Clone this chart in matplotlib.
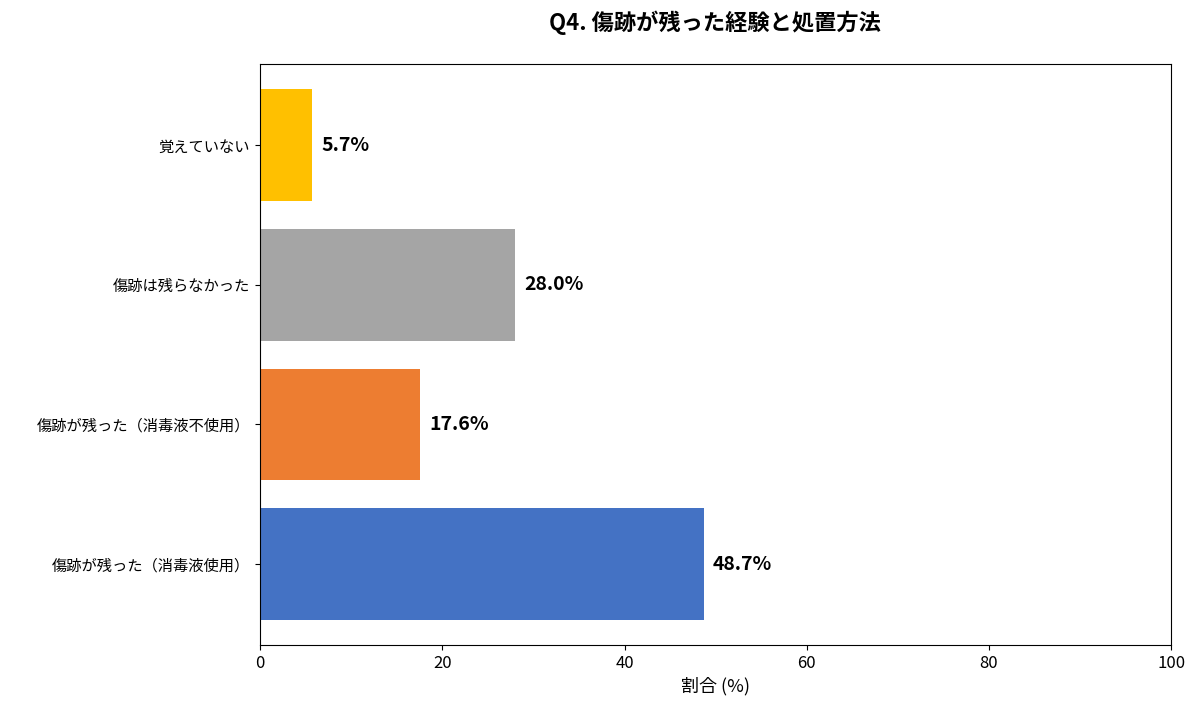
import matplotlib
matplotlib.use("Agg")
import matplotlib.pyplot as plt

plt.rcParams['font.family'] = ['Noto Sans CJK JP', 'DejaVu Sans']

categories = ["傷跡が残った（消毒液使用）", "傷跡が残った（消毒液不使用）", "傷跡は残らなかった", "覚えていない"]
values = [48.7, 17.6, 28.0, 5.7]
colors = ["#4472C4", "#ED7D31", "#A5A5A5", "#FFC000"]

fig = plt.figure(figsize=(12, 7.12), dpi=100)
ax = fig.add_axes([0.2167, 0.094, 0.7593, 0.816])
bars = ax.barh(range(len(categories)), values, height=0.8, color=colors)
for b, v in zip(bars, values):
    ax.text(v + 1, b.get_y() + b.get_height() / 2, f"{v:.1f}%",
            va="center", ha="left", fontsize=14, fontweight="bold")
ax.set_yticks(range(len(categories)))
ax.set_yticklabels(categories, fontsize=11)
ax.set_xlim(0, 100)
ax.set_ylim(-0.58, 3.58)
ax.tick_params(axis="x", labelsize=12)
ax.set_xlabel("割合 (%)", fontsize=13)
fig.suptitle("Q4. 傷跡が残った経験と処置方法", x=0.596, y=0.985,
             fontsize=16, fontweight="bold")
fig.savefig("out.png", dpi=100)
